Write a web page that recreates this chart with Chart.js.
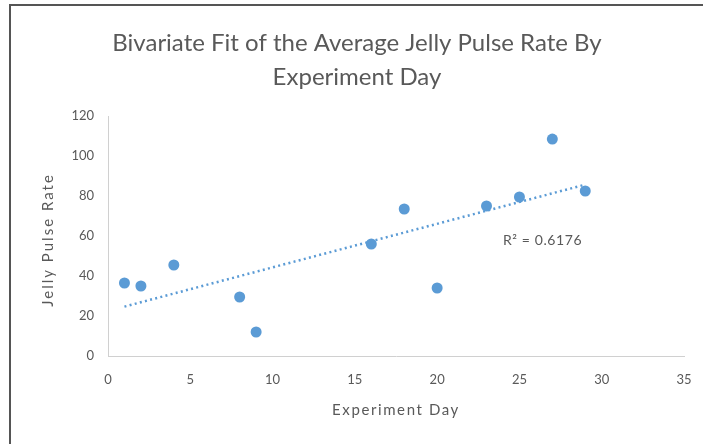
<!DOCTYPE html>
<html>
<head>
<meta charset="utf-8">
<script src="https://cdn.jsdelivr.net/npm/chart.js@4"></script>
<style>
    body { margin: 0; background: #fff; }
    #wrap { position: relative; width: 703px; height: 444px; }
    #frame {
        position: absolute; left: 9px; top: 4px; right: 0; bottom: 0;
        border-left: 2px solid #555; border-top: 2px solid #555;
        pointer-events: none;
    }
</style>
</head>
<body>
<div id="wrap">
    <canvas id="fitChart" width="703" height="444"></canvas>
    <div id="frame"></div>
</div>
<script>
// Experiment day vs average jelly pulse rate
const days = [1, 2, 4, 8, 9, 16, 18, 20, 23, 25, 27, 29];
const pulseRates = [36.5, 35, 45.5, 29.5, 12, 56, 73.5, 34, 75, 79.5, 108.5, 82.5];

// Linear trendline end points
const fitDays = [1, 29];
const fitRates = [24.7, 85.7];
const rSquaredText = 'R² = 0.6176';

const xTicks = [0, 5, 10, 15, 20, 25, 30, 35];
const yTicks = [0, 20, 40, 60, 80, 100, 120];

const titleLines = ['Bivariate Fit of the Average Jelly Pulse Rate By', 'Experiment Day'];
const xAxisTitle = 'Experiment Day';
const yAxisTitle = 'Jelly Pulse Rate';

const textGrey = '#595959';
const markerBlue = '#5b9bd5';
const axisGrey = '#d0d0d0';

// Axis titles are drawn here so they can get the loose letter spacing of the original
const axisTitlePlugin = {
    id: 'axisTitlePlugin',
    afterDraw(chart) {
        const { ctx, chartArea } = chart;
        ctx.save();
        ctx.font = '15px Lato';
        ctx.fillStyle = textGrey;
        ctx.textAlign = 'center';
        ctx.textBaseline = 'middle';
        ctx.letterSpacing = '1.6px';
        ctx.fillText(xAxisTitle, (chartArea.left + chartArea.right) / 2, 410);

        ctx.letterSpacing = '2px';
        ctx.translate(48, 240);
        ctx.rotate(-Math.PI / 2);
        ctx.fillText(yAxisTitle, 0, 0);
        ctx.restore();
    }
};

// Draws the R² label next to the trendline
const rSquaredPlugin = {
    id: 'rSquaredPlugin',
    afterDatasetsDraw(chart) {
        const { ctx, scales: { x, y } } = chart;
        ctx.save();
        ctx.font = '14px Lato';
        ctx.fillStyle = textGrey;
        ctx.textAlign = 'left';
        ctx.textBaseline = 'middle';
        ctx.letterSpacing = '0.6px';
        ctx.fillText(rSquaredText, x.getPixelForValue(24), y.getPixelForValue(58));
        ctx.restore();
    }
};

const ctx = document.getElementById('fitChart').getContext('2d');

new Chart(ctx, {
    type: 'scatter',
    data: {
        datasets: [
            {
                label: 'Linear fit',
                data: fitDays.map((d, i) => ({ x: d, y: fitRates[i] })),
                showLine: true,
                pointRadius: 0,
                borderColor: markerBlue,
                borderWidth: 2.5,
                borderDash: [2, 3.3]
            },
            {
                label: 'Jelly Pulse Rate',
                data: days.map((d, i) => ({ x: d, y: pulseRates[i] })),
                pointRadius: 5.5,
                pointBackgroundColor: markerBlue,
                pointBorderColor: markerBlue,
                pointBorderWidth: 0
            }
        ]
    },
    options: {
        responsive: false,
        animation: false,
        layout: { padding: { left: 30, right: 19, top: 0, bottom: 0 } },
        plugins: {
            legend: { display: false },
            tooltip: { enabled: false },
            title: {
                display: true,
                text: titleLines,
                color: textGrey,
                font: { family: 'Lato', size: 24, weight: 'normal', lineHeight: 1.417 },
                padding: { top: 26, bottom: 22 }
            }
        },
        scales: {
            x: {
                type: 'linear',
                min: 0,
                max: 35,
                afterBuildTicks: scale => { scale.ticks = xTicks.map(v => ({ value: v })); },
                afterFit: scale => {
                    scale.height = 88;
                    scale.paddingLeft = 0;
                    scale.paddingRight = 0;
                },
                grid: { display: false, drawTicks: false },
                border: { display: true, color: axisGrey, width: 1 },
                ticks: { color: textGrey, font: { family: 'Lato', size: 13 }, padding: 16 }
            },
            y: {
                type: 'linear',
                min: 0,
                max: 120,
                afterBuildTicks: scale => { scale.ticks = yTicks.map(v => ({ value: v })); },
                afterFit: scale => { scale.width = 78; },
                grid: { display: false, drawTicks: false },
                border: { display: true, color: axisGrey, width: 1 },
                ticks: { color: textGrey, font: { family: 'Lato', size: 13 }, padding: 14 }
            }
        }
    },
    plugins: [rSquaredPlugin, axisTitlePlugin]
});
</script>
</body>
</html>
